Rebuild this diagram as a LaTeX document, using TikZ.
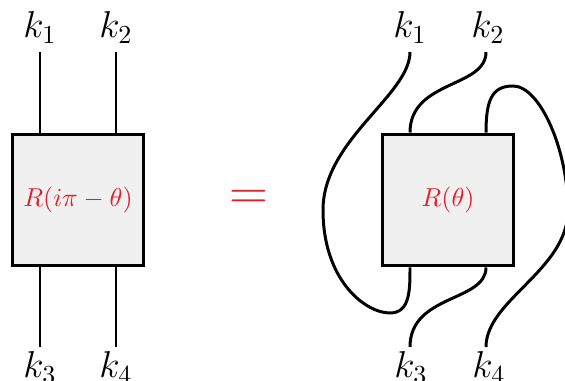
\documentclass[tikz,border=0pt]{standalone}
\usetikzlibrary{calc}
\definecolor{rred}{RGB}{220,35,45}
\definecolor{boxgray}{RGB}{240,240,240}
\begin{document}
\begin{tikzpicture}[x=0.385pt,y=-0.385pt,
  wire/.style={line width=1.15pt},
  rbox/.style={draw,line width=1.15pt,fill=boxgray,minimum width=50.8pt,minimum height=50.8pt,inner sep=0pt,text=rred},
  klab/.style={anchor=base,font=\Large,inner sep=0pt}]
\useasboundingbox (0,0) rectangle (565,381);
% left side
\node[rbox] (L) at (78,200) {$R(i\pi-\theta)$};
\coordinate (Lt1) at ($(L.north)+(-38,0)$);
\coordinate (Lt2) at ($(L.north)+(38,0)$);
\coordinate (Lb1) at ($(L.south)+(-38,0)$);
\coordinate (Lb2) at ($(L.south)+(38,0)$);
\coordinate (a1) at (40,52);
\coordinate (a2) at (116,52);
\coordinate (a3) at (40,347);
\coordinate (a4) at (116,347);
\draw[wire] (a1) -- (Lt1);
\draw[wire] (a2) -- (Lt2);
\draw[wire] (Lb1) -- (a3);
\draw[wire] (Lb2) -- (a4);
\node[klab] (k1L) at (40,38) {$k_1$};
\node[klab] (k2L) at (116,38) {$k_2$};
\node[klab] (k3L) at (40,378) {$k_3$};
\node[klab] (k4L) at (116,378) {$k_4$};
% equals
\node[text=rred,font=\huge,inner sep=0pt] (eq) at (249,200) {$=$};
% right side
\node[rbox] (R) at (448,200) {$R(\theta)$};
\coordinate (Rt1) at ($(R.north)+(-38,0)$);
\coordinate (Rt2) at ($(R.north)+(38,0)$);
\coordinate (Rb1) at ($(R.south)+(-38,0)$);
\coordinate (Rb2) at ($(R.south)+(38,0)$);
\coordinate (b1) at (410,52);
\coordinate (b2) at (486,52);
\coordinate (b3) at (410,347);
\coordinate (b4) at (486,347);
\draw[wire] (b1) .. controls (410,95) and (323,140) .. (323,210)
  .. controls (323,280) and (365,313) .. (390,313)
  .. controls (410,313) and (410,290) .. (Rb1);
\draw[wire] (b2) .. controls (486,88) and (410,80) .. (Rt1);
\draw[wire] (Rb2) .. controls (486,302) and (410,294) .. (b3);
\draw[wire] (Rt2) .. controls (486,100) and (492,86) .. (513,86)
  .. controls (540,86) and (568,150) .. (568,210)
  .. controls (568,270) and (486,300) .. (b4);
\node[klab] (k1R) at (410,38) {$k_1$};
\node[klab] (k2R) at (488,38) {$k_2$};
\node[klab] (k3R) at (411,378) {$k_3$};
\node[klab] (k4R) at (489,378) {$k_4$};
\end{tikzpicture}
\end{document}
